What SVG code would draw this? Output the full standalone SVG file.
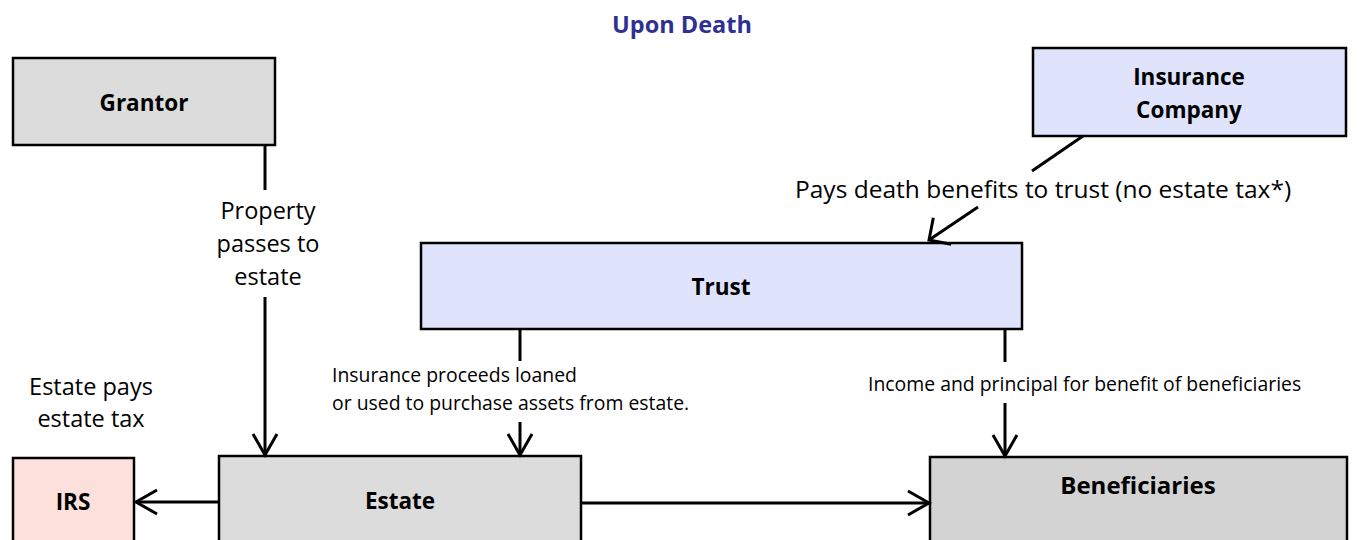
<svg xmlns="http://www.w3.org/2000/svg" width="1357" height="540" viewBox="0 0 1357 540">
  <defs>
    <style>
      .box { stroke: #000; stroke-width: 2.5; }
      .grey { fill: #dcdcdc; }
      .grey2 { fill: #d3d3d3; }
      .blue { fill: #dfe3fc; }
      .pink { fill: #fde0dc; }
      .lbl { font-family: "Open Sans", "Liberation Sans", sans-serif; font-weight: bold; font-size: 22.5px; fill: #000; text-anchor: middle; }
      .note { font-family: "Open Sans", "Liberation Sans", sans-serif; font-size: 23.5px; fill: #000; }
      .small { font-family: "Open Sans", "Liberation Sans", sans-serif; font-size: 19.4px; fill: #000; }
      .title { font-family: "Open Sans", "Liberation Sans", sans-serif; font-weight: bold; font-size: 23.5px; fill: #2e3192; text-anchor: middle; }
      .wire { stroke: #000; stroke-width: 3; fill: none; }
    </style>
    <marker id="head" markerUnits="userSpaceOnUse" markerWidth="30" markerHeight="30" refX="0" refY="0" viewBox="-24 -15 26 30" orient="auto" overflow="visible">
      <path d="M-21,-12 L0,0 L-21,12" fill="none" stroke="#000" stroke-width="3"/>
    </marker>
    <!-- wider open head for the diagonal connector -->
    <marker id="head-wide" markerUnits="userSpaceOnUse" markerWidth="30" markerHeight="40" refX="0" refY="0" viewBox="-20 -20 22 40" orient="auto" overflow="visible">
      <path d="M-16,-16 L0,0 L-16,16" fill="none" stroke="#000" stroke-width="3"/>
    </marker>
  </defs>

  <rect width="1357" height="540" fill="#fff"/>

  <text class="title" x="682" y="33">Upon Death</text>

  <g id="grantor">
    <rect class="box grey" x="13" y="58" width="262" height="87"/>
    <text class="lbl" x="144" y="111">Grantor</text>
  </g>

  <g id="insurance-company">
    <rect class="box blue" x="1033" y="48" width="313" height="88"/>
    <text class="lbl" x="1189" y="85">Insurance</text>
    <text class="lbl" x="1189" y="118">Company</text>
  </g>

  <g id="trust">
    <rect class="box blue" x="421" y="243" width="601" height="86"/>
    <text class="lbl" x="721" y="295">Trust</text>
  </g>

  <g id="irs">
    <rect class="box pink" x="13" y="458" width="121" height="90"/>
    <text class="lbl" x="73" y="510">IRS</text>
  </g>

  <g id="estate">
    <rect class="box grey" x="219" y="456" width="362" height="92"/>
    <text class="lbl" x="400" y="509">Estate</text>
  </g>

  <g id="beneficiaries">
    <rect class="box grey2" x="930" y="457" width="417" height="91"/>
    <text class="lbl" x="1138" y="494" style="font-size:24px">Beneficiaries</text>
  </g>

  <g id="connectors">
    <!-- Grantor to Estate -->
    <line class="wire" x1="265" y1="145" x2="265" y2="190"/>
    <line class="wire" x1="265" y1="297" x2="265" y2="455" marker-end="url(#head)"/>
    <text class="note" x="268" y="219" text-anchor="middle">Property</text>
    <text class="note" x="268" y="252" text-anchor="middle">passes to</text>
    <text class="note" x="268" y="285" text-anchor="middle">estate</text>

    <!-- Insurance Company to Trust -->
    <line class="wire" x1="1083" y1="136" x2="1032" y2="171"/>
    <line class="wire" x1="978" y1="207" x2="929" y2="240" marker-end="url(#head-wide)"/>
    <text class="note" x="795" y="198" style="font-size:24.5px">Pays death benefits to trust (no estate tax*)</text>

    <!-- Trust to Estate -->
    <line class="wire" x1="520" y1="329" x2="520" y2="361"/>
    <line class="wire" x1="520" y1="422" x2="520" y2="455" marker-end="url(#head)"/>
    <text class="small" x="332" y="382">Insurance proceeds loaned</text>
    <text class="small" x="332" y="410">or used to purchase assets from estate.</text>

    <!-- Trust to Beneficiaries -->
    <line class="wire" x1="1005" y1="329" x2="1005" y2="362"/>
    <line class="wire" x1="1005" y1="403" x2="1005" y2="456" marker-end="url(#head)"/>
    <text class="small" x="868" y="391">Income and principal for benefit of beneficiaries</text>

    <!-- Estate to IRS -->
    <line class="wire" x1="219" y1="502" x2="136" y2="502" marker-end="url(#head)"/>
    <text class="note" x="91" y="395" text-anchor="middle">Estate pays</text>
    <text class="note" x="91" y="427" text-anchor="middle">estate tax</text>

    <!-- Estate to Beneficiaries -->
    <line class="wire" x1="582" y1="503" x2="929" y2="503" marker-end="url(#head)"/>
  </g>
</svg>
